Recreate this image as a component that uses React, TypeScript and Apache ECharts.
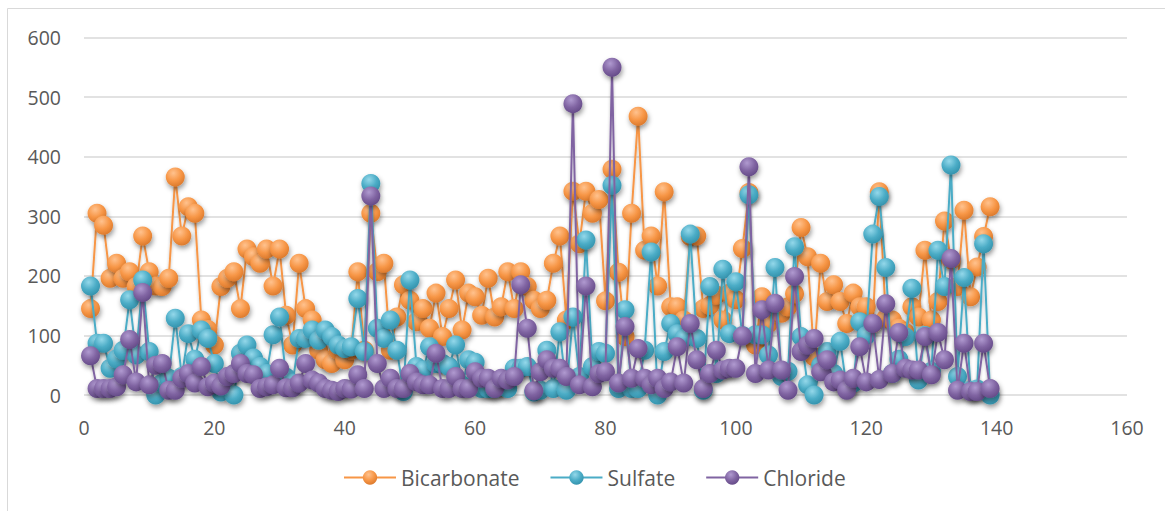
import React, { useEffect, useRef } from "react";
import * as echarts from "echarts";

const sampleIds: number[] = Array.from({ length: 139 }, (_, i) => i + 1);

const bicarbonate: number[] = [
  145, 305, 285, 196, 221, 196, 207, 182, 267, 207,
  183, 182, 196, 366, 267, 316, 305, 126, 110, 84,
  182, 196, 207, 145, 245, 232, 221, 245, 183, 245,
  134, 84, 221, 145, 126, 75, 59, 53, 75, 59,
  75, 207, 75, 305, 207, 221, 75, 131, 185, 159,
  123, 145, 112, 171, 98, 145, 193, 109, 171, 165,
  134, 196, 131, 148, 207, 145, 207, 182, 159, 145,
  159, 221, 267, 126, 342, 254, 342, 305, 328, 158,
  379, 206, 98, 305, 468, 243, 267, 183, 341, 148,
  148, 126, 266, 267, 145, 150, 168, 126, 171, 160,
  246, 340, 84, 165, 120, 150, 137, 148, 170, 281,
  232, 64, 221, 157, 185, 157, 120, 171, 148, 148,
  120, 341, 129, 126, 112, 105, 148, 131, 243, 126,
  157, 292, 227, 182, 310, 165, 215, 266, 316,
];

const sulfate: number[] = [
  183, 87, 87, 45, 61, 75, 160, 67, 193, 73,
  0, 20, 28, 129, 31, 103, 60, 109, 95, 53,
  5, 30, 0, 70, 84, 62, 48, 36, 101, 131,
  30, 20, 95, 95, 109, 92, 109, 98, 84, 78,
  81, 162, 73, 355, 112, 95, 126, 75, 6, 193,
  48, 42, 81, 53, 53, 48, 84, 17, 59, 55,
  11, 11, 11, 15, 11, 45, 45, 48, 5, 8,
  75, 11, 106, 8, 131, 31, 260, 48, 73, 70,
  352, 11, 143, 11, 11, 75, 240, 0, 73, 120,
  103, 95, 270, 95, 8, 182, 36, 211, 103, 190,
  100, 336, 101, 101, 67, 214, 31, 40, 249, 98,
  17, 0, 50, 73, 36, 90, 12, 20, 123, 100,
  270, 333, 214, 36, 60, 98, 179, 25, 100, 40,
  243, 182, 386, 31, 197, 8, 10, 254, 0,
];

const chloride: number[] = [
  66, 11, 11, 11, 14, 34, 93, 22, 172, 17,
  50, 53, 8, 8, 28, 36, 20, 48, 14, 20,
  15, 31, 36, 53, 36, 34, 11, 14, 17, 45,
  12, 12, 20, 53, 25, 20, 11, 8, 6, 11,
  10, 34, 11, 334, 53, 11, 28, 11, 11, 36,
  22, 17, 17, 70, 11, 11, 31, 11, 11, 39,
  28, 28, 11, 28, 25, 31, 185, 112, 7, 39,
  59, 45, 45, 31, 489, 17, 183, 14, 36, 39,
  550, 20, 115, 28, 78, 28, 17, 28, 11, 22,
  81, 20, 120, 59, 11, 36, 75, 42, 45, 45,
  99, 383, 36, 143, 42, 154, 42, 8, 199, 73,
  84, 95, 39, 59, 22, 25, 8, 28, 81, 22,
  120, 26, 153, 36, 105, 45, 42, 42, 98, 34,
  105, 59, 229, 8, 87, 6, 6, 87, 11,
];

const seriesNames: string[] = ["Bicarbonate", "Sulfate", "Chloride"];
const xTicks = { min: 0, max: 160, interval: 20 };
const yTicks = { min: 0, max: 600, interval: 100 };

const palette = [
  { base: "#F79646", light: "#ffc28e", dark: "#d9772a" },
  { base: "#4BACC6", light: "#94d8ea", dark: "#3290aa" },
  { base: "#8064A2", light: "#b09ad0", dark: "#624885" },
];

const FONT = "'Open Sans', 'Noto Sans', sans-serif";

export default function App() {
  const ref = useRef<HTMLDivElement>(null);

  useEffect(() => {
    if (!ref.current) return;
    const chart = echarts.init(ref.current, undefined, { renderer: "svg" });
    const values = [bicarbonate, sulfate, chloride];

    const series = seriesNames.map((name, si) => {
      const c = palette[si];
      return {
        name,
        type: "line",
        data: sampleIds.map((id, i) => [id, values[si][i]]),
        symbol: "circle",
        symbolSize: 19,
        showSymbol: true,
        lineStyle: {
          color: c.base,
          width: 2,
          shadowColor: "rgba(0,0,0,0.25)",
          shadowBlur: 3,
          shadowOffsetY: 2,
        },
        itemStyle: {
          color: {
            type: "radial",
            x: 0.4,
            y: 0.3,
            r: 0.75,
            colorStops: [
              { offset: 0, color: c.light },
              { offset: 0.55, color: c.base },
              { offset: 1, color: c.dark },
            ],
          },
          borderWidth: 0,
          shadowColor: "rgba(0,0,0,0.4)",
          shadowBlur: 5,
          shadowOffsetY: 3,
          shadowOffsetX: 1,
        },
        emphasis: { disabled: true },
        z: 2 + si,
      };
    });

    chart.setOption({
      animation: false,
      backgroundColor: "#ffffff",
      graphic: [
        {
          type: "rect",
          shape: { x: 7.5, y: 8.5, width: 1200, height: 600 },
          style: { fill: "none", stroke: "#d9d9d9", lineWidth: 1 },
          silent: true,
          z: -10,
        },
      ],
      grid: { left: 84, right: 38, top: 37.5, bottom: 116, containLabel: false },
      legend: {
        data: seriesNames.map((n) => ({ name: n })),
        bottom: 18,
        left: 338,
        itemWidth: 52,
        itemHeight: 18,
        itemGap: 30,
        textStyle: { color: "#595959", fontSize: 21, fontFamily: FONT },
      },
      xAxis: {
        type: "value",
        min: xTicks.min,
        max: xTicks.max,
        interval: xTicks.interval,
        axisLine: { show: false },
        axisTick: { show: false },
        splitLine: { show: false },
        axisLabel: { color: "#595959", fontSize: 19.5, fontFamily: FONT, margin: 22 },
      },
      yAxis: {
        type: "value",
        min: yTicks.min,
        max: yTicks.max,
        interval: yTicks.interval,
        axisLine: { show: false },
        axisTick: { show: false },
        splitLine: { lineStyle: { color: "#d9d9d9", width: 1.5 } },
        axisLabel: { color: "#595959", fontSize: 19.5, fontFamily: FONT, margin: 23 },
      },
      series,
    });

    return () => chart.dispose();
  }, []);

  return (
    <div
      ref={ref}
      style={{ position: "absolute", left: 0, top: 0, width: 1165, height: 511 }}
    />
  );
}
